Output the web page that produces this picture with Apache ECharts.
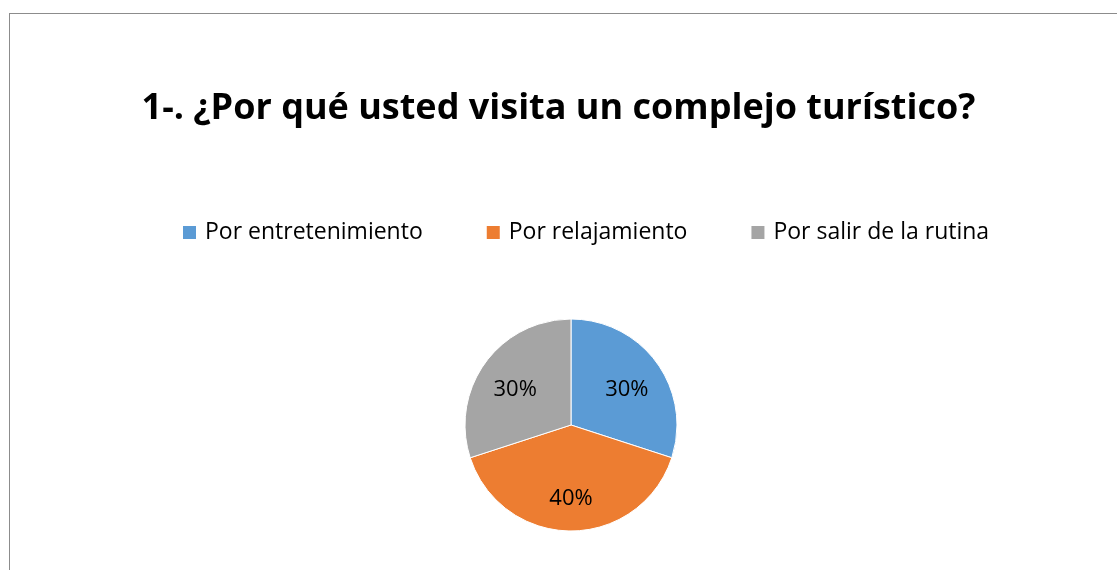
<!DOCTYPE html>
<html>
<head>
<meta charset="utf-8">
<script src="https://cdn.jsdelivr.net/npm/echarts@6/dist/echarts.min.js"></script>
<style>
  html, body { margin: 0; padding: 0; background: #fff; overflow: hidden; }
  #frame { position: absolute; left: 9px; top: 13px; width: 1130px; height: 600px; border: 1px solid #8c8c8c; }
  #chart { position: absolute; left: 0; top: 0; width: 1117px; height: 570px; }
</style>
</head>
<body>
<div id="frame"></div>
<div id="chart"></div>
<script>
var titleText = '1-. ¿Por qué usted visita un complejo turístico?';
var categories = ['Por entretenimiento', 'Por relajamiento', 'Por salir de la rutina'];
var values = [30, 40, 30];
var colors = ['#5b9bd5', '#ed7d31', '#a5a5a5'];

var font = '"Open Sans", "Noto Sans", sans-serif';

var pieData = categories.map(function (c, i) {
    return { name: c, value: values[i], itemStyle: { color: colors[i] } };
});
// same values, but invisible slices: only carry the labels
var labelData = categories.map(function (c, i) {
    return { name: c, value: values[i], itemStyle: { color: 'rgba(0,0,0,0)' } };
});

var option = {
    animation: false,
    title: {
        text: titleText,
        left: 'center',
        top: 86,
        textStyle: { fontFamily: font, fontSize: 36, fontWeight: 'bold', color: '#000' }
    },
    legend: {
        data: categories,
        left: 176,
        top: 216,
        icon: 'rect',
        itemWidth: 15,
        itemHeight: 15,
        itemGap: 62,
        textStyle: { fontFamily: font, fontSize: 23, color: '#000', padding: [0, 0, 0, 3] }
    },
    series: [{
        type: 'pie',
        center: [571, 425],
        radius: [0, 106],
        startAngle: 90,
        clockwise: true,
        silent: true,
        label: { show: false },
        labelLine: { show: false },
        itemStyle: { borderColor: '#fff', borderWidth: 1 },
        data: pieData
    }, {
        type: 'pie',
        center: [571, 430],
        radius: [0, 132],
        startAngle: 90,
        clockwise: true,
        silent: true,
        legendHoverLink: false,
        label: {
            show: true,
            position: 'inside',
            formatter: '{c}%',
            fontFamily: font,
            fontSize: 22,
            color: '#000'
        },
        labelLine: { show: false },
        data: labelData
    }]
};

var myChart = echarts.init(document.getElementById('chart'));
myChart.setOption(option, true);
</script>
</body>
</html>
